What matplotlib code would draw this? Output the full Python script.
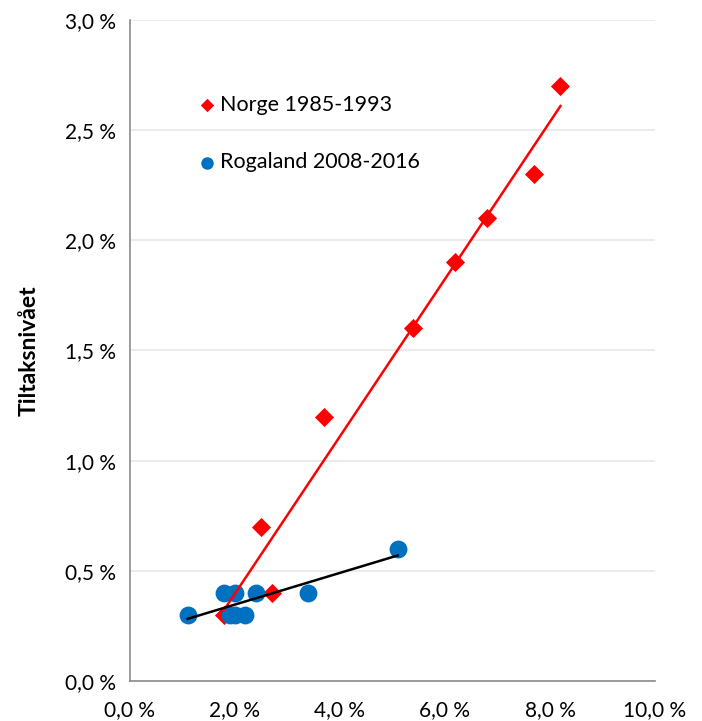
import matplotlib
matplotlib.use("Agg")
import matplotlib.pyplot as plt
import numpy as np
from matplotlib.ticker import FuncFormatter, MultipleLocator

plt.rcParams['font.family'] = ['Lato', 'DejaVu Sans']

# Data (percent)
norge_x = [1.8, 2.5, 2.7, 3.7, 5.4, 6.2, 6.8, 7.7, 8.2]
norge_y = [0.3, 0.7, 0.4, 1.2, 1.6, 1.9, 2.1, 2.3, 2.7]
rog_x = [1.1, 1.8, 2.0, 1.9, 2.0, 2.2, 2.4, 3.4, 5.1]
rog_y = [0.3, 0.4, 0.4, 0.3, 0.3, 0.3, 0.4, 0.4, 0.6]
norge_label = "Norge 1985-1993"
rog_label = "Rogaland 2008-2016"
ylabel = "Tiltaksnivået"

fig = plt.figure(figsize=(7.02, 7.21), dpi=100)
ax = fig.add_axes([0.185, 0.0555, 0.748, 0.917])

red = "#ff0000"
blue = "#0070c0"

ax.scatter(norge_x, norge_y, marker='D', s=95, color=red, zorder=3, label=norge_label, linewidths=0)
ax.scatter(rog_x, rog_y, marker='o', s=165, color=blue, zorder=3, label=rog_label, linewidths=0)

# linear trend lines
for xs, ys, c in [(norge_x, norge_y, red), (rog_x, rog_y, 'black')]:
    k, m = np.polyfit(xs, ys, 1)
    xx = np.array([min(xs), max(xs)])
    ax.plot(xx, k * xx + m, color=c, lw=1.8, zorder=4)

ax.set_xlim(0, 10)
ax.set_ylim(0, 3)
ax.xaxis.set_major_locator(MultipleLocator(2))
ax.yaxis.set_major_locator(MultipleLocator(0.5))
fmt = FuncFormatter(lambda v, p: f"{v:.1f} %".replace('.', ','))
ax.xaxis.set_major_formatter(fmt)
ax.yaxis.set_major_formatter(fmt)
ax.tick_params(axis='both', length=0, labelsize=15, colors='black')
ax.tick_params(axis='x', pad=14)
ax.tick_params(axis='y', pad=10)

ax.grid(axis='y', color='#e8e8e8', lw=1.2, zorder=0)
ax.set_axisbelow(True)
for s in ['top', 'right']:
    ax.spines[s].set_visible(False)
for s in ['left', 'bottom']:
    ax.spines[s].set_color('#8c8c8c')
    ax.spines[s].set_linewidth(1.2)

ax.set_ylabel(ylabel, fontsize=16.5, fontweight='bold', labelpad=18)

leg = ax.legend(loc='upper left', bbox_to_anchor=(0.11, 0.9), frameon=False,
                fontsize=15.5, handletextpad=0.1, labelspacing=1.75,
                handlelength=1.0, markerscale=0.7, borderaxespad=0)

fig.savefig("out.png", dpi=100)
